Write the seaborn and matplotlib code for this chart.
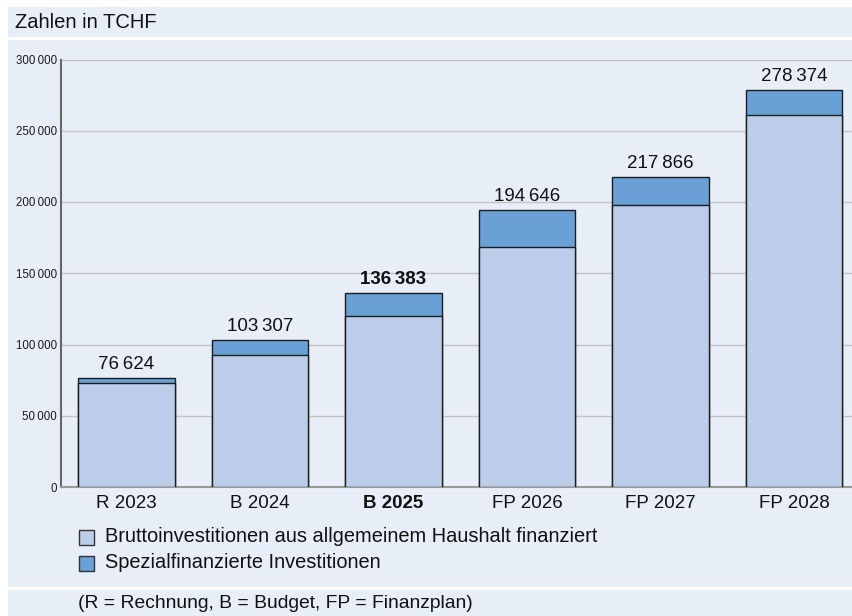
import matplotlib
matplotlib.use("Agg")
import matplotlib.pyplot as plt
import seaborn as sns
import pandas as pd
from matplotlib.patches import Rectangle

# ---------------- data ----------------
categories = ["R 2023", "B 2024", "B 2025", "FP 2026", "FP 2027", "FP 2028"]
brutto = [73070, 92500, 120000, 168200, 197700, 261400]
spezial = [3554, 10807, 16383, 26446, 20166, 16974]
total_labels = ["76\u2009624", "103\u2009307", "136\u2009383", "194\u2009646", "217\u2009866", "278\u2009374"]
highlight = "B 2025"
yticks = [0, 50000, 100000, 150000, 200000, 250000, 300000]
ytick_labels = ["0", "50\u2009000", "100\u2009000", "150\u2009000", "200\u2009000", "250\u2009000", "300\u2009000"]
series_names = ["Bruttoinvestitionen aus allgemeinem Haushalt finanziert",
                "Spezialfinanzierte Investitionen"]
title = "Zahlen in TCHF"
footer = "(R = Rechnung, B = Budget, FP = Finanzplan)"

# ---------------- style ----------------
sns.set_theme(style="white")
plt.rcParams["font.family"] = ["Liberation Sans", "DejaVu Sans"]

BG = "#E8EEF8"
C_BOTTOM = "#BCCDEA"
C_TOP = "#69A1D7"
EDGE = "#1c1c1c"
W, H = 853, 616

df = pd.DataFrame({"cat": categories, "brutto": brutto, "spezial": spezial})
df["total"] = df["brutto"] + df["spezial"]

fig = plt.figure(figsize=(W / 100, H / 100), dpi=100)
fig.patch.set_facecolor("white")
# panel background
fig.patches.append(Rectangle((8 / W, 0), 1 - 8 / W, 1 - 7 / H, transform=fig.transFigure,
                             facecolor=BG, edgecolor="none", zorder=-10))
# white separators
for ysep in (38.5, 588):
    fig.patches.append(Rectangle((8 / W, 1 - (ysep + 1.5) / H), 1 - 8 / W, 2.5 / H,
                                 transform=fig.transFigure, facecolor="white",
                                 edgecolor="none", zorder=-9))

ax = fig.add_axes([61 / W, 1 - 487 / H, (W - 61) / W, 427.5 / H])
ax.set_facecolor(BG)

bw = 0.723
sns.barplot(data=df, x="cat", y="total", color=C_TOP, saturation=1, width=bw,
            edgecolor=EDGE, linewidth=1, ax=ax, zorder=3)
sns.barplot(data=df, x="cat", y="brutto", color=C_BOTTOM, saturation=1, width=bw,
            edgecolor=EDGE, linewidth=1, ax=ax, zorder=4)

ax.set_xlim(-0.4906, 5.442)
ax.set_ylim(0, 300000)
ax.set_yticks(yticks, ytick_labels)
ax.tick_params(axis="y", length=0, pad=3, labelsize=8.3, labelcolor="#1a1a1a")
ax.tick_params(axis="x", length=0, pad=6, labelsize=13.5, labelcolor="#111111")
for lab in ax.get_xticklabels():
    if lab.get_text() == highlight:
        lab.set_fontweight("bold")
ax.set_xlabel("")
ax.set_ylabel("")
ax.yaxis.grid(True, color="#C4C4C4", linewidth=1)
ax.set_axisbelow(True)
for s in ("top", "right"):
    ax.spines[s].set_visible(False)
ax.spines["left"].set_color("#666666")
ax.spines["left"].set_linewidth(1.5)
ax.spines["bottom"].set_color("#999999")
ax.spines["bottom"].set_linewidth(1.5)

for i, (cat, tot, lab) in enumerate(zip(categories, df["total"], total_labels)):
    ax.annotate(lab, (i, tot), xytext=(0, 3.5), textcoords="offset points",
                ha="center", va="bottom", fontsize=13.5, color="#111111",
                fontweight="bold" if cat == highlight else "normal", zorder=6)

# title
fig.text(15 / W, 1 - 23 / H, title, ha="left", va="center", fontsize=14.5, color="#111111")

# legend
for k, (name, col) in enumerate(zip(series_names, [C_BOTTOM, C_TOP])):
    yc = 537 + 26 * k
    fig.patches.append(Rectangle((79 / W, 1 - (yc + 7.5) / H), 15 / W, 15 / H,
                                 transform=fig.transFigure, facecolor=col,
                                 edgecolor="#333333", linewidth=1, zorder=5))
    fig.text(105 / W, 1 - yc / H, name, ha="left", va="center", fontsize=14.4, color="#111111")

# footer
fig.text(78 / W, 1 - 603 / H, footer, ha="left", va="center", fontsize=13.9, color="#111111")

fig.savefig("out.png", dpi=100, facecolor=fig.get_facecolor())
